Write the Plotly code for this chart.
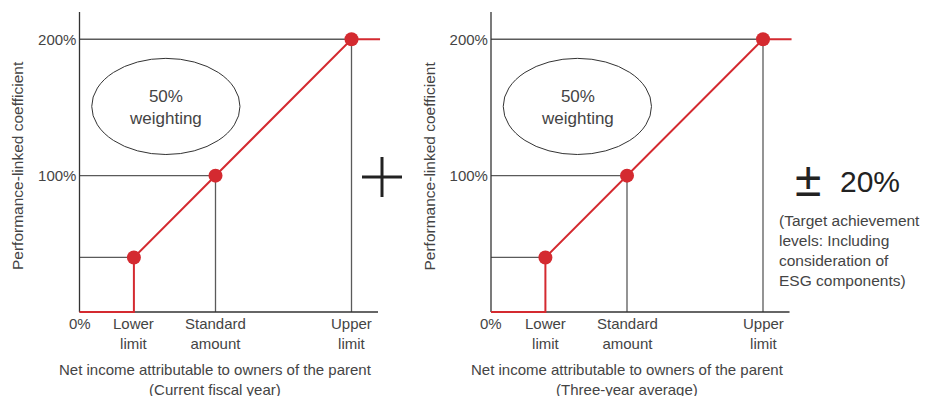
import plotly.graph_objects as go

# ---- data ----
x_points = [40, 100, 200]          # lower limit, standard amount, upper limit
y_points = [40, 100, 200]          # performance-linked coefficient (%)
x_end = 221                        # red line continues to the right edge
y_tick_vals = [100, 200]
y_tick_text = ["100%", "200%"]
x_tick_vals = [0, 40, 100, 200]
x_tick_text = ["0%", "Lower<br>limit", "Standard<br>amount", "Upper<br>limit"]
x_titles = ["Net income attributable to owners of the parent<br>(Current fiscal year)",
            "Net income attributable to owners of the parent<br>(Three-year average)"]
y_title = "Performance-linked coefficient"
ellipse_text = "50%<br>weighting"
note = "(Target achievement<br>levels: Including<br>consideration of<br>ESG components)"

RED = "#d42a30"
GRAY = "#5a5a5a"
AXC = "#333333"
TXT = "#444444"
FONT = "Liberation Sans, Arial, sans-serif"

# page body has an 8px default margin -> figure is placed at (8, 8)
OFF = 8
W, H = 928 - OFF, 396 - OFF
S = 1.36          # pixels per data unit (both axes)
PAD = 1.5         # small data padding so lines on the axes are not clipped


def px(x):
    return (x - OFF) / W


def py(y):
    return 1 - (y - OFF) / H


fig = go.Figure()

panels = [("x", "y", 79.5), ("x2", "y2", 491.0)]
xmax = (381.0 - 79.5) / S
xr = [-PAD, xmax]
yr = [-PAD, 220]
ydom = [py(312 + PAD * S), py(12)]

shapes = []
annotations = []
for i, (xa, ya, px0) in enumerate(panels):
    xs = [0, x_points[0], x_points[0], x_points[1], x_points[2], x_end]
    ys = [0, 0, y_points[0], y_points[1], y_points[2], y_points[2]]
    fig.add_trace(go.Scatter(x=xs, y=ys, xaxis=xa, yaxis=ya, mode="lines",
                             line=dict(color=RED, width=2), hoverinfo="skip",
                             showlegend=False))
    fig.add_trace(go.Scatter(x=x_points, y=y_points, xaxis=xa, yaxis=ya, mode="markers",
                             marker=dict(color=RED, size=14), hoverinfo="skip",
                             showlegend=False))
    xref, yref = xa, ya
    for k, (gx, gy) in enumerate(zip(x_points, y_points)):
        shapes.append(dict(type="line", xref=xref, yref=yref, x0=0, x1=gx, y0=gy, y1=gy,
                           line=dict(color=GRAY, width=1.3), layer="below"))
        if k > 0:
            shapes.append(dict(type="line", xref=xref, yref=yref, x0=gx, x1=gx, y0=0, y1=gy,
                               line=dict(color=GRAY, width=1.3), layer="below"))
    shapes.append(dict(type="line", xref=xref, yref=yref, x0=0, x1=0, y0=0, y1=220,
                       line=dict(color=AXC, width=1.3), layer="below"))
    shapes.append(dict(type="line", xref=xref, yref=yref, x0=0, x1=219.5, y0=0, y1=0,
                       line=dict(color=AXC, width=1.3), layer="below"))
    shapes.append(dict(type="circle", xref=xref, yref=yref, x0=9, x1=118, y0=115.5, y1=186,
                       line=dict(color=AXC, width=1)))
    annotations.append(dict(xref=xref, yref=yref, x=63.5, y=150, text=ellipse_text,
                            showarrow=False, font=dict(size=17, color=TXT, family=FONT)))
    for tv, tt in zip(x_tick_vals, x_tick_text):
        annotations.append(dict(xref=xref, yref="paper", x=tv, y=py(313), yanchor="top",
                                xanchor="center", text=tt, showarrow=False,
                                font=dict(size=15, color=TXT, family=FONT)))
    annotations.append(dict(xref=xref, yref="paper", x=100, y=py(359), yanchor="top",
                            xanchor="center", text=x_titles[i], showarrow=False,
                            font=dict(size=15, color=TXT, family=FONT)))
    annotations.append(dict(xref="paper", yref="paper", x=px(px0 - 62.5), y=py(166),
                            xanchor="center", yanchor="middle",
                            text=y_title, textangle=-90, showarrow=False,
                            font=dict(size=15.5, color=TXT, family=FONT)))

# plus sign between panels
shapes.append(dict(type="line", xref="paper", yref="paper", x0=px(362), x1=px(402),
                   y0=py(177), y1=py(177), line=dict(color="#222222", width=3)))
shapes.append(dict(type="line", xref="paper", yref="paper", x0=px(382), x1=px(382),
                   y0=py(157), y1=py(197), line=dict(color="#222222", width=3)))

annotations.append(dict(xref="paper", yref="paper", x=px(808), y=py(179), xanchor="center",
                        yanchor="middle", text="±", showarrow=False,
                        font=dict(size=48, color="#222222", family=FONT)))
annotations.append(dict(xref="paper", yref="paper", x=px(838), y=py(181), xanchor="left",
                        yanchor="middle", text="20%", showarrow=False,
                        font=dict(size=30, color="#222222", family=FONT)))
annotations.append(dict(xref="paper", yref="paper", x=px(777), y=py(210), xanchor="left",
                        yanchor="top", align="left", text=note, showarrow=False,
                        font=dict(size=15.5, color=TXT, family=FONT)))

axis_common = dict(showgrid=False, zeroline=False, showline=False, fixedrange=True)
fig.update_layout(
    width=W, height=H, margin=dict(l=0, r=0, t=0, b=0),
    paper_bgcolor="white", plot_bgcolor="white",
    xaxis=dict(domain=[px(79.5 - PAD * S), px(381.0)], range=xr, showticklabels=False,
               **axis_common),
    xaxis2=dict(domain=[px(491.0 - PAD * S), px(792.5)], range=xr, showticklabels=False,
                anchor="y2", **axis_common),
    yaxis=dict(domain=ydom, range=yr, tickvals=y_tick_vals, ticktext=y_tick_text,
               tickfont=dict(size=15, color=TXT, family=FONT), ticks="", **axis_common),
    yaxis2=dict(domain=ydom, range=yr, tickvals=y_tick_vals, ticktext=y_tick_text, anchor="x2",
                tickfont=dict(size=15, color=TXT, family=FONT), ticks="", **axis_common),
    shapes=shapes, annotations=annotations,
)
fig.write_html("out.html")
